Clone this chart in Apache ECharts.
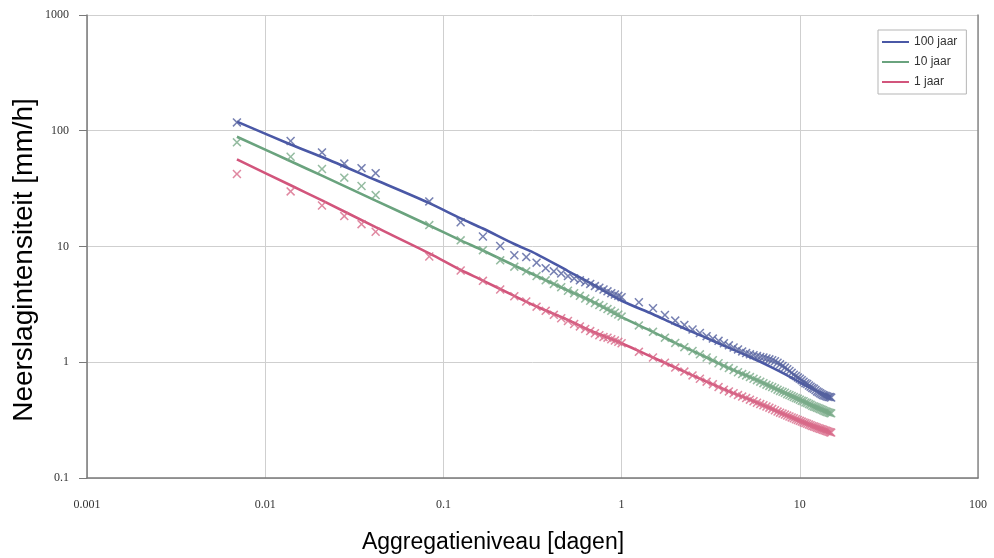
<!DOCTYPE html>
<html>
<head>
<meta charset="utf-8">
<script src="https://cdn.jsdelivr.net/npm/echarts@6/dist/echarts.min.js"></script>
<style>
html,body{margin:0;padding:0;background:#fff;}
#chart{width:994px;height:558px;}
</style>
</head>
<body>
<div id="chart"></div>
<script>
// Aggregation levels (days) of the observed points: 10..60 min, 2..24 h, then every 6 h up to 15 days
const xDays = [0.00694,0.01389,0.02083,0.02778,0.03472,0.04167,0.08333,
  0.125,0.16667,0.20833,0.25,0.29167,0.33333,0.375,0.41667,0.45833,0.5,0.54167,0.58333,0.625,0.66667,0.70833,0.75,0.79167,0.83333,0.875,0.91667,0.95833,1,
  1.25,1.5,1.75,2,2.25,2.5,2.75,3,3.25,3.5,3.75,4,4.25,4.5,4.75,5,5.25,5.5,5.75,6,6.25,6.5,6.75,7,7.25,7.5,7.75,8,8.25,8.5,8.75,9,9.25,9.5,9.75,10,
  10.25,10.5,10.75,11,11.25,11.5,11.75,12,12.25,12.5,12.75,13,13.25,13.5,13.75,14,14.25,14.5,14.75,15];

const obs100 = [118,81.5,65,52,47.5,43,24.5,
  16.2,12.2,10.1,8.4,8.1,7.25,6.5,6.1,5.85,5.55,5.3,5.1,4.9,4.75,4.55,4.4,4.25,4.1,3.95,3.85,3.75,3.65,
  3.3,2.93,2.56,2.29,2.1,1.92,1.79,1.68,1.6,1.53,1.46,1.4,1.34,1.29,1.24,1.2,1.17,1.15,1.13,1.11,1.1,1.08,1.06,1.04,1.02,0.99,0.96,0.93,0.9,0.87,0.84,0.81,0.78,0.76,0.74,0.72,
  0.7,0.68,0.66,0.65,0.63,0.615,0.6,0.59,0.575,0.56,0.55,0.54,0.53,0.52,0.515,0.51,0.505,0.5,0.5,0.495];

const obs10 = [79.4,59.6,46.7,39.3,33.3,27.8,15.3,
  11.3,9.3,7.6,6.7,6.1,5.55,5.1,4.75,4.45,4.15,3.95,3.75,3.55,3.4,3.25,3.12,3.0,2.88,2.78,2.68,2.58,2.48,
  2.08,1.83,1.63,1.47,1.35,1.25,1.17,1.1,1.04,0.98,0.93,0.89,0.855,0.82,0.79,0.77,0.745,0.72,0.7,0.68,0.66,0.64,0.625,0.61,0.595,0.58,0.565,0.555,0.545,0.53,0.52,0.51,0.5,0.49,0.485,0.475,
  0.465,0.46,0.45,0.445,0.435,0.43,0.42,0.415,0.41,0.405,0.4,0.395,0.39,0.385,0.38,0.375,0.372,0.368,0.365,0.362];

const obs1 = [42.3,29.9,22.6,18.3,15.6,13.4,8.2,
  6.2,5.05,4.25,3.72,3.35,3.02,2.78,2.57,2.4,2.27,2.14,2.04,1.94,1.86,1.78,1.71,1.65,1.63,1.58,1.54,1.5,1.46,
  1.23,1.1,0.99,0.9,0.83,0.77,0.72,0.68,0.645,0.61,0.58,0.56,0.54,0.52,0.505,0.49,0.475,0.46,0.447,0.435,0.425,0.415,0.405,0.395,0.385,0.375,0.367,0.36,0.353,0.346,0.34,0.334,0.328,0.322,0.317,0.312,
  0.307,0.302,0.298,0.294,0.29,0.286,0.282,0.279,0.276,0.272,0.269,0.266,0.264,0.261,0.258,0.256,0.254,0.251,0.249,0.247];

// Fitted curves
const lineDays = [0.00694,0.01389,0.02083,0.04167,0.08333,0.125,0.16667,0.25,0.33333,0.5,0.66667,1,1.5,2,3,4,5,6,7,8,10,12,15];
const fit100 = [120,76,59.3,37.5,23.7,17.5,14.3,10.5,8.6,6.14,4.84,3.4,2.6,2.12,1.62,1.33,1.15,1.01,0.9,0.81,0.67,0.58,0.5];
const fit10  = [88.7,54.5,40.9,24.9,15.2,11.3,9.23,6.85,5.56,4.17,3.42,2.45,1.83,1.47,1.1,0.89,0.77,0.68,0.61,0.555,0.475,0.415,0.362];
const fit1   = [56.6,33.8,25,14.7,8.73,6.27,5.08,3.74,3.03,2.32,1.88,1.46,1.1,0.9,0.68,0.56,0.49,0.435,0.395,0.36,0.312,0.279,0.247];

const seriesNames = ['100 jaar','10 jaar','1 jaar'];
const xTickLabels = ['0.001','0.01','0.1','1','10','100'];
const yTickLabels = ['0.1','1','10','100','1000'];

const colors = ['#4a58a6','#6aa37e','#d2557c'];
const crossColors = ['#55629f','#7aab8a','#d86a8a'];
const crossPath = 'path://M0,1.2L1.2,0L5,3.8L8.8,0L10,1.2L6.2,5L10,8.8L8.8,10L5,6.2L1.2,10L0,8.8L3.8,5Z';

const obsAll = [obs100, obs10, obs1];
const fitAll = [fit100, fit10, fit1];

const series = [];
for (let i = 0; i < 3; i++) {
  series.push({
    name: seriesNames[i] + ' obs',
    type: 'scatter',
    symbol: crossPath,
    symbolSize: 9,
    itemStyle: { color: crossColors[i] },
    data: xDays.map((d, k) => [d, obsAll[i][k]]),
    z: 3
  });
}
for (let i = 0; i < 3; i++) {
  series.push({
    name: seriesNames[i],
    type: 'line',
    smooth: 0.3,
    symbol: 'none',
    lineStyle: { color: colors[i], width: 2.6 },
    itemStyle: { color: colors[i] },
    data: lineDays.map((d, k) => [d, fitAll[i][k]]),
    z: 2
  });
}

const chart = echarts.init(document.getElementById('chart'), null, { renderer: 'canvas' });
chart.setOption({
  animation: false,
  backgroundColor: '#ffffff',
  grid: { left: 87, right: 16, top: 15, bottom: 80 },
  legend: {
    data: seriesNames,
    orient: 'vertical',
    left: 878,
    top: 30,
    padding: [6, 9, 6, 4],
    itemGap: 8,
    itemWidth: 27,
    itemHeight: 2,
    icon: 'rect',
    backgroundColor: '#ffffff',
    borderColor: '#b5b5b5',
    borderWidth: 1,
    textStyle: { fontFamily: 'Liberation Sans', fontSize: 12, color: '#333' }
  },
  xAxis: {
    type: 'log',
    logBase: 10,
    min: 0.001,
    max: 100,
    axisLine: { show: true, lineStyle: { color: '#7a7a7a', width: 1.5 } },
    axisTick: { show: false },
    splitLine: { show: true, lineStyle: { color: '#cfcfcf', width: 1 } },
    minorSplitLine: { show: false },
    axisLabel: {
      margin: 21,
      fontFamily: 'Liberation Serif',
      fontSize: 12,
      color: '#333',
      formatter: v => xTickLabels[Math.round(Math.log10(v)) + 3]
    }
  },
  yAxis: [{
    type: 'log',
    logBase: 10,
    min: 0.1,
    max: 1000,
    axisLine: { show: true, lineStyle: { color: '#7a7a7a', width: 1.5 } },
    axisTick: { show: true, inside: false, length: 8, lineStyle: { color: '#7a7a7a' } },
    splitLine: { show: true, lineStyle: { color: '#cfcfcf', width: 1 } },
    axisLabel: {
      margin: 18,
      fontFamily: 'Liberation Serif',
      fontSize: 12,
      color: '#333',
      formatter: v => yTickLabels[Math.round(Math.log10(v)) + 1]
    }
  }, {
    type: 'log',
    logBase: 10,
    min: 0.1,
    max: 1000,
    position: 'right',
    axisLine: { show: true, onZero: false, lineStyle: { color: '#8a8a8a', width: 1.5 } },
    axisTick: { show: false },
    axisLabel: { show: false },
    splitLine: { show: false }
  }],
  graphic: [
    {
      type: 'text',
      x: 24, y: 260,
      rotation: Math.PI / 2,
      style: {
        text: 'Neerslagintensiteit [mm/h]',
        x: 0, y: 0,
        align: 'center',
        verticalAlign: 'middle',
        font: '28px "Liberation Sans"',
        fill: '#000'
      }
    },
    {
      type: 'text',
      x: 493, y: 543,
      style: {
        text: 'Aggregatieniveau [dagen]',
        x: 0, y: 0,
        align: 'center',
        verticalAlign: 'middle',
        font: '23px "Liberation Sans"',
        fill: '#000'
      }
    }
  ],
  series: series
});
</script>
</body>
</html>
